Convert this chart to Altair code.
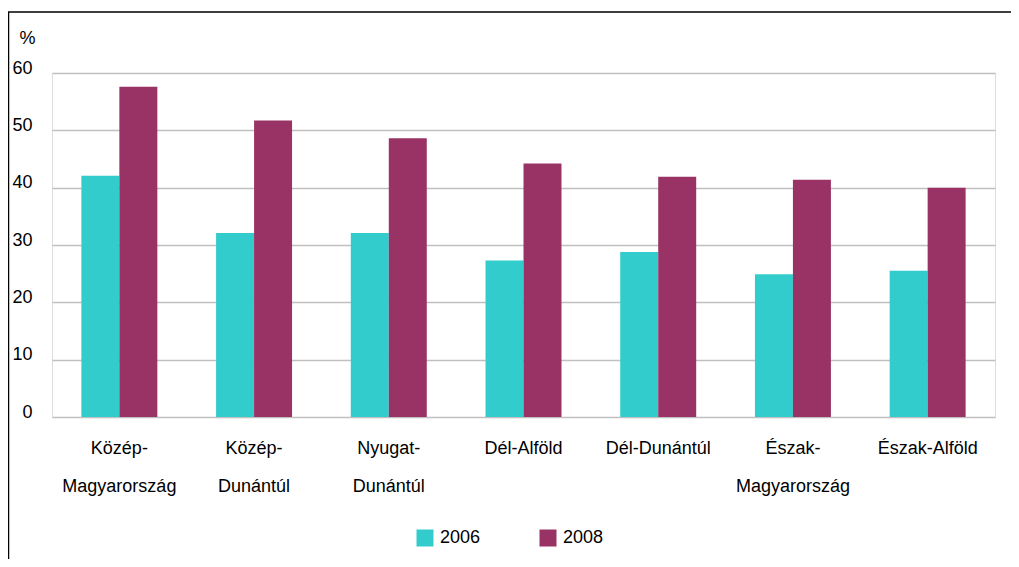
import altair as alt
import pandas as pd

regions = ["Közép-Magyarország", "Közép-Dunántúl", "Nyugat-Dunántúl", "Dél-Alföld",
           "Dél-Dunántúl", "Észak-Magyarország", "Észak-Alföld"]
years = ["2006", "2008"]
v2006 = [42.1, 32.1, 32.1, 27.3, 28.8, 24.9, 25.5]
v2008 = [57.6, 51.7, 48.6, 44.2, 41.9, 41.4, 40.0]
colors = ["#33CCCC", "#993366"]
y_ticks = [0, 10, 20, 30, 40, 50, 60]

rows = []
for r, a, b in zip(regions, v2006, v2008):
    rows.append({"region": r, "year": "2006", "value": a})
    rows.append({"region": r, "year": "2008", "value": b})
df = pd.DataFrame(rows)

FONT = "Liberation Sans"

label_expr = ("(datum.label == 'Dél-Alföld' || datum.label == 'Dél-Dunántúl' || "
              "datum.label == 'Észak-Alföld') ? datum.label : "
              "split(replace(datum.label, '-', '-|'), '|')")

bars = alt.Chart(df).mark_bar().encode(
    x=alt.X("region:N", sort=regions,
            scale=alt.Scale(paddingInner=0.436, paddingOuter=0.218),
            axis=alt.Axis(title=None, labelAngle=0, ticks=False, domain=False,
                          labelExpr=label_expr, labelBaseline="top",
                          labelPadding=22, labelLineHeight=38,
                          labelFontSize=18, labelFont=FONT, labelColor="#000")),
    xOffset=alt.XOffset("year:N", sort=years,
                        scale=alt.Scale(paddingInner=0, paddingOuter=0)),
    y=alt.Y("value:Q", scale=alt.Scale(domain=[0, 60], nice=False),
            axis=alt.Axis(values=y_ticks, title="%", titleAngle=0, titleAlign="left",
                          titleBaseline="alphabetic", titleX=-33, titleY=-30,
                          titleFontSize=18, titleFontWeight="normal", titleFont=FONT,
                          titleColor="#000",
                          ticks=False, domain=False, labelPadding=20, labelOffset=-5,
                          labelFontSize=18, labelFont=FONT, labelColor="#000",
                          gridColor="#c0c0c0", gridWidth=1.6)),
    color=alt.Color("year:N", sort=years,
                    scale=alt.Scale(domain=years, range=colors),
                    legend=alt.Legend(title=None, orient="none", direction="horizontal",
                                      legendX=364, legendY=456,
                                      symbolType="square", symbolSize=289,
                                      symbolStrokeWidth=0, symbolOpacity=1,
                                      labelFontSize=18, labelFont=FONT, labelColor="#000",
                                      labelOffset=6, columnPadding=58)),
)

frame = alt.Chart(alt.Data(values=[{"a": 1}])).mark_rect(
    fill="transparent", stroke="#000", strokeWidth=1.5
).encode(
    x=alt.value(-43.5), x2=alt.value(3000),
    y=alt.value(-61), y2=alt.value(3000),
)

chart = alt.layer(bars, frame).properties(
    width=943, height=344,
    autosize=alt.AutoSizeParams(type="none"),
    padding={"left": 44, "top": 65, "right": 16, "bottom": 142},
).configure_view(
    stroke="#a0a0a0", strokeWidth=2
).configure(background="white")

chart.save("out.html", embed_options={"renderer": "svg", "actions": False})
